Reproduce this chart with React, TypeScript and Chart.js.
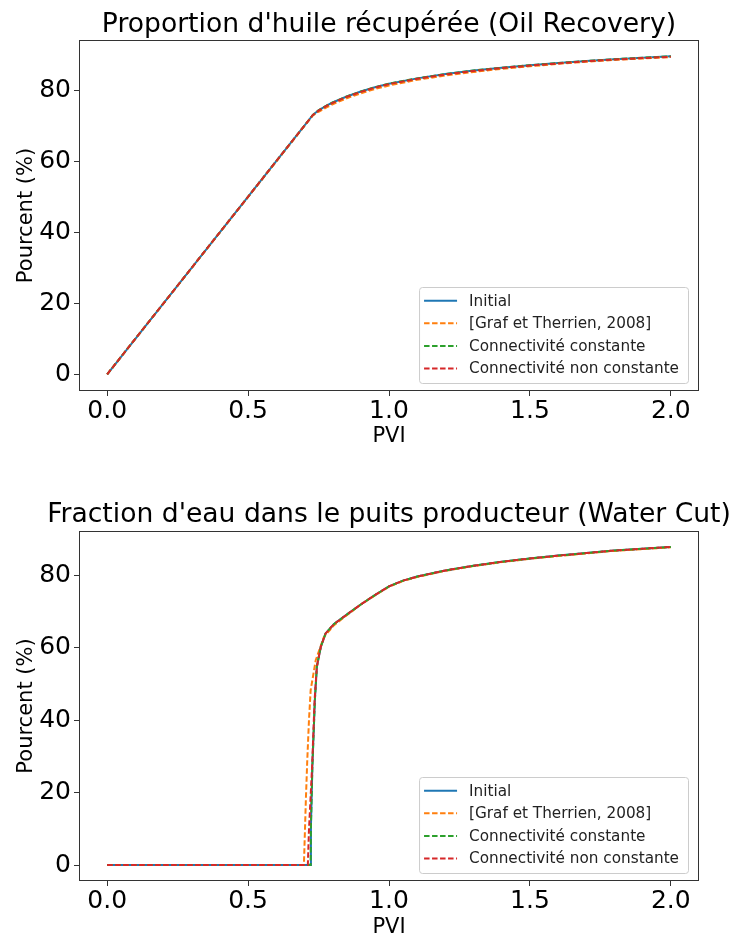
import React, { useEffect, useRef } from "react";
import { Chart, registerables } from "chart.js";

Chart.register(...registerables);

// ---------- Data ----------
const SERIES_LABELS = [
  "Initial",
  "[Graf et Therrien, 2008]",
  "Connectivité constante",
  "Connectivité non constante",
];
const SERIES_COLORS = ["#1f77b4", "#ff7f0e", "#2ca02c", "#d62728"];

const X_TICKS = [0, 0.5, 1.0, 1.5, 2.0];
const X_TICK_LABELS = ["0.0", "0.5", "1.0", "1.5", "2.0"];
const Y_TICKS = [0, 20, 40, 60, 80];

const TITLE_OIL = "Proportion d'huile récupérée (Oil Recovery)";
const TITLE_WATER = "Fraction d'eau dans le puits producteur (Water Cut)";
const X_LABEL = "PVI";
const Y_LABEL = "Pourcent (%)";

// Oil recovery (%) vs PVI
const OIL_PVI = [0, 0.73, 0.75, 0.78, 0.8, 0.85, 0.9, 0.95, 1.0, 1.1, 1.2, 1.3, 1.4, 1.5, 1.6, 1.7, 1.8, 1.9, 2.0];
const OIL_INITIAL = [0, 73.0, 74.3, 75.7, 76.5, 78.2, 79.6, 80.8, 81.8, 83.3, 84.5, 85.5, 86.3, 87.0, 87.6, 88.2, 88.7, 89.1, 89.5];
const OIL_GRAF = [0, 72.9, 73.9, 75.2, 76.0, 77.7, 79.1, 80.3, 81.3, 82.9, 84.1, 85.1, 86.0, 86.7, 87.4, 88.0, 88.5, 88.9, 89.3];
const OIL_CONST = [0, 73.0, 74.3, 75.7, 76.5, 78.2, 79.6, 80.8, 81.8, 83.3, 84.5, 85.5, 86.3, 87.0, 87.6, 88.2, 88.7, 89.1, 89.5];
const OIL_NONCONST = [0, 73.0, 74.2, 75.6, 76.4, 78.1, 79.5, 80.7, 81.7, 83.2, 84.4, 85.4, 86.2, 86.9, 87.5, 88.1, 88.6, 89.0, 89.4];

// Water cut (%) vs PVI
const WC_PVI_INITIAL = [0, 0.722, 0.723, 0.728, 0.737, 0.744, 0.758, 0.775, 0.805, 0.85, 0.9, 0.95, 1.0, 1.05, 1.1, 1.2, 1.3, 1.4, 1.5, 1.6, 1.7, 1.8, 1.9, 2.0];
const WC_INITIAL = [0, 0, 10.6, 27.0, 45.6, 54.8, 60.3, 64.0, 66.6, 69.2, 72.0, 74.6, 77.0, 78.6, 79.7, 81.4, 82.7, 83.8, 84.7, 85.5, 86.2, 86.9, 87.4, 87.9];
const WC_PVI_GRAF = [0, 0.698, 0.700, 0.705, 0.710, 0.716, 0.722, 0.740, 0.769, 0.805, 0.85, 0.9, 0.95, 1.0, 1.05, 1.1, 1.2, 1.3, 1.4, 1.5, 1.6, 1.7, 1.8, 1.9, 2.0];
const WC_GRAF = [0, 0, 5.0, 18.0, 29.0, 40.0, 48.3, 56.6, 63.0, 66.3, 69.0, 72.0, 74.5, 76.9, 78.5, 79.6, 81.3, 82.6, 83.7, 84.6, 85.4, 86.1, 86.8, 87.3, 87.8];
const WC_PVI_CONST = [0, 0.722, 0.723, 0.728, 0.737, 0.744, 0.758, 0.775, 0.805, 0.85, 0.9, 0.95, 1.0, 1.05, 1.1, 1.2, 1.3, 1.4, 1.5, 1.6, 1.7, 1.8, 1.9, 2.0];
const WC_CONST = [0, 0, 10.6, 27.0, 45.6, 54.8, 60.3, 64.0, 66.6, 69.2, 72.0, 74.6, 77.0, 78.6, 79.7, 81.4, 82.7, 83.8, 84.7, 85.5, 86.2, 86.9, 87.4, 87.9];
const WC_PVI_NONCONST = [0, 0.712, 0.716, 0.727, 0.736, 0.744, 0.758, 0.775, 0.805, 0.85, 0.9, 0.95, 1.0, 1.05, 1.1, 1.2, 1.3, 1.4, 1.5, 1.6, 1.7, 1.8, 1.9, 2.0];
const WC_NONCONST = [0, 0, 9.7, 27.0, 45.6, 54.8, 60.3, 64.0, 66.6, 69.2, 72.0, 74.6, 77.0, 78.6, 79.7, 81.4, 82.7, 83.8, 84.7, 85.5, 86.2, 86.9, 87.4, 87.9];

// ---------- Helpers ----------
const FONT = '"DejaVu Sans", "Liberation Sans", sans-serif';
const DASH = [5.5, 2.5];

function pts(xs: number[], ys: number[]) {
  return xs.map((x, i) => ({ x, y: ys[i] }));
}

function makeDatasets(series: { x: number[]; y: number[] }[]) {
  const n = series.length;
  return series.map((s, i) => ({
    label: SERIES_LABELS[i],
    data: pts(s.x, s.y),
    borderColor: SERIES_COLORS[i],
    backgroundColor: SERIES_COLORS[i],
    borderWidth: 2,
    borderDash: i === 0 ? [] : DASH,
    pointRadius: 0,
    tension: 0,
    fill: false,
    order: n - 1 - i,
  }));
}

const decorPlugin = {
  id: "decor",
  afterDatasetsDraw(chart: any) {
    const { ctx, chartArea: ca } = chart;
    const o = chart.options.plugins.decor;
    ctx.save();
    // spines
    ctx.strokeStyle = "#333";
    ctx.lineWidth = 1;
    ctx.setLineDash([]);
    ctx.strokeRect(ca.left + 0.5, ca.top + 0.5, ca.right - ca.left - 1, ca.bottom - ca.top - 1);

    // title
    ctx.fillStyle = "#000";
    ctx.font = `26.6px ${FONT}`;
    ctx.textAlign = "center";
    ctx.textBaseline = "alphabetic";
    ctx.fillText(o.title, (ca.left + ca.right) / 2, o.titleY);

    // legend
    const fs = 15.25;
    ctx.font = `${fs}px ${FONT}`;
    const ds = chart.data.datasets;
    let tw = 0;
    ds.forEach((d: any) => (tw = Math.max(tw, ctx.measureText(d.label).width)));
    const boxW = 50 + tw + 9;
    const rowH = 22.6;
    const boxH = 96;
    const right = ca.right - 11;
    const bottom = ca.bottom - 8;
    const left = right - boxW;
    const top = bottom - boxH;
    ctx.beginPath();
    if (ctx.roundRect) ctx.roundRect(left + 0.5, top + 0.5, boxW, boxH, 3);
    else ctx.rect(left + 0.5, top + 0.5, boxW, boxH);
    ctx.fillStyle = "rgba(255,255,255,0.8)";
    ctx.fill();
    ctx.strokeStyle = "#cccccc";
    ctx.stroke();
    ds.forEach((d: any, i: number) => {
      const y = top + 13.7 + i * rowH;
      ctx.beginPath();
      ctx.setLineDash(d.borderDash || []);
      ctx.strokeStyle = d.borderColor;
      ctx.lineWidth = 2;
      ctx.moveTo(left + 5, y);
      ctx.lineTo(left + 38, y);
      ctx.stroke();
      ctx.setLineDash([]);
      ctx.fillStyle = "#222";
      ctx.textAlign = "left";
      ctx.textBaseline = "middle";
      ctx.fillText(d.label, left + 50, y + 1);
    });
    ctx.restore();
  },
};

type PanelProps = {
  height: number;
  padTop: number;
  xAxisHeight: number;
  yMin: number;
  yMax: number;
  title: string;
  titleY: number;
  xTitlePadBottom: number;
  series: { x: number[]; y: number[] }[];
};

function Panel(p: PanelProps) {
  const ref = useRef<HTMLCanvasElement | null>(null);
  useEffect(() => {
    if (!ref.current) return;
    const chart = new Chart(ref.current, {
      type: "line",
      data: { datasets: makeDatasets(p.series) as any },
      options: {
        responsive: false,
        animation: false,
        devicePixelRatio: 1,
        layout: { padding: { top: p.padTop, right: 32, left: 0, bottom: 0 } },
        plugins: {
          legend: { display: false },
          title: { display: false },
          tooltip: { enabled: false },
          decor: { title: p.title, titleY: p.titleY },
        } as any,
        scales: {
          x: {
            type: "linear",
            min: -0.1,
            max: 2.1,
            afterBuildTicks: (s: any) => {
              s.ticks = X_TICKS.map((v) => ({ value: v }));
            },
            afterFit: (s: any) => {
              s.height = p.xAxisHeight;
            },
            ticks: {
              autoSkip: false,
              maxRotation: 0,
              padding: 0,
              color: "#000",
              font: { family: FONT, size: 25 },
              callback: (v: any) => {
                const i = X_TICKS.indexOf(Number(v));
                return i >= 0 ? X_TICK_LABELS[i] : "";
              },
            },
            grid: { drawOnChartArea: false, drawTicks: true, tickLength: 5, color: "#333" },
            border: { display: false },
            title: {
              display: true,
              text: X_LABEL,
              color: "#000",
              font: { family: FONT, size: 21 },
              padding: { top: 0, bottom: p.xTitlePadBottom },
            },
          },
          y: {
            type: "linear",
            min: p.yMin,
            max: p.yMax,
            afterBuildTicks: (s: any) => {
              s.ticks = Y_TICKS.map((v) => ({ value: v }));
            },
            afterFit: (s: any) => {
              s.width = 79;
            },
            ticks: {
              autoSkip: false,
              padding: 3,
              color: "#000",
              font: { family: FONT, size: 25 },
              callback: (v: any) => String(v),
            },
            grid: { drawOnChartArea: false, drawTicks: true, tickLength: 5, color: "#333" },
            border: { display: false },
            title: {
              display: true,
              text: Y_LABEL,
              color: "#000",
              font: { family: FONT, size: 21 },
              padding: { top: 14, bottom: 0 },
            },
          },
        },
      },
      plugins: [decorPlugin as any],
    });
    return () => chart.destroy();
  }, []);
  return (
    <canvas
      ref={ref}
      width={731}
      height={p.height}
      style={{ display: "block", width: 731, height: p.height }}
    />
  );
}

export default function App() {
  return (
    <div
      style={{
        position: "fixed",
        left: 0,
        top: 0,
        width: 731,
        height: 936,
        overflow: "hidden",
        background: "#fff",
      }}
    >
      <div style={{ position: "absolute", left: 0, top: 0 }}>
        <Panel
          height={468}
          padTop={40}
          xAxisHeight={77}
          yMin={-4.7}
          yMax={94.1}
          title={TITLE_OIL}
          titleY={32}
          xTitlePadBottom={19}
          series={[
            { x: OIL_PVI, y: OIL_INITIAL },
            { x: OIL_PVI, y: OIL_GRAF },
            { x: OIL_PVI, y: OIL_CONST },
            { x: OIL_PVI, y: OIL_NONCONST },
          ]}
        />
      </div>
      <div style={{ position: "absolute", left: 0, top: 468 }}>
        <Panel
          height={480}
          padTop={63}
          xAxisHeight={67}
          yMin={-4.42}
          yMax={92.3}
          title={TITLE_WATER}
          titleY={54}
          xTitlePadBottom={8}
          series={[
            { x: WC_PVI_INITIAL, y: WC_INITIAL },
            { x: WC_PVI_GRAF, y: WC_GRAF },
            { x: WC_PVI_CONST, y: WC_CONST },
            { x: WC_PVI_NONCONST, y: WC_NONCONST },
          ]}
        />
      </div>
    </div>
  );
}
